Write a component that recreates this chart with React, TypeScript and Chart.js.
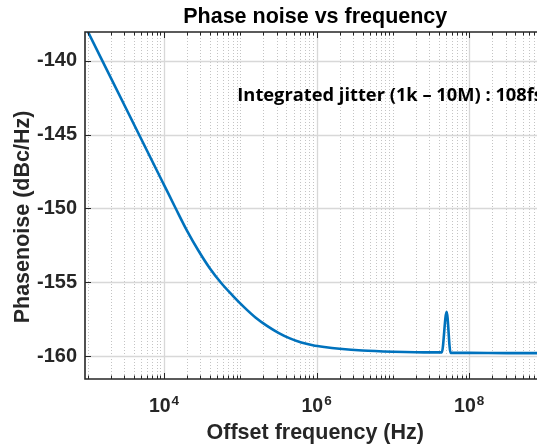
import React, { useEffect, useRef } from "react";
import { Chart, registerables } from "chart.js";

Chart.register(...registerables);

// ---- data ----
const freqHz = [
  1e3, 3.16e3, 1e4, 1.41e4, 2e4, 2.82e4, 3.98e4, 5.62e4, 7.94e4, 1.12e5,
  1.58e5, 2.24e5, 3.16e5, 4.47e5, 6.31e5, 8.91e5, 1.26e6, 2e6, 3.98e6, 1e7,
  3.16e7, 4.37e7, 5.06e7, 5.7e7, 1e8, 3.16e8, 1e9,
];
const phaseNoiseDbc = [
  -138.0, -143.2, -148.4, -149.95, -151.5, -152.85, -154.05, -155.05, -155.9,
  -156.68, -157.38, -157.95, -158.42, -158.8, -159.08, -159.26, -159.38,
  -159.5, -159.62, -159.7, -159.75, -159.75, -157.0, -159.78, -159.78,
  -159.8, -159.8,
];
const yTickValues = [-160, -155, -150, -145, -140];
const xMajorExponents = [4, 6, 8];
const xRange = [922, 7.74e8];
const yRange = [-161.55, -138.05];
const axisEndHz = 1e9;
const annotationText = "Integrated jitter (1k \u2013 10M) : 108fs";
const annotationAt = [9.14e4, -142.7];
const titleText = "Phase noise vs frequency";
const xTitleText = "Offset frequency (Hz)";
const yTitleText = "Phasenoise (dBc/Hz)";

const AXIS = "#262626";
const SANS = '"Liberation Sans", Arial, sans-serif';

const decor = {
  id: "decor",
  beforeDatasetsDraw(chart: any) {
    const { ctx, chartArea: a, scales } = chart;
    const x = scales.x;
    const y = scales.y;
    ctx.save();
    // minor dotted grid
    ctx.strokeStyle = "#c4c4c4";
    ctx.lineWidth = 1;
    ctx.setLineDash([1, 2]);
    ctx.beginPath();
    for (let d = 2; d <= 9; d++) {
      for (let m = 1; m <= 9; m++) {
        const v = m * Math.pow(10, d);
        if (v < xRange[0] || v > xRange[1]) continue;
        if (m === 1 && xMajorExponents.includes(d)) continue;
        const px = Math.round(x.getPixelForValue(v)) + 0.5;
        ctx.moveTo(px, a.top);
        ctx.lineTo(px, a.bottom);
      }
    }
    ctx.stroke();
    // major solid grid
    ctx.setLineDash([]);
    ctx.strokeStyle = "#d8d8d8";
    ctx.lineWidth = 1.3;
    ctx.beginPath();
    for (const e of xMajorExponents) {
      const px = Math.round(x.getPixelForValue(Math.pow(10, e))) + 0.5;
      ctx.moveTo(px, a.top);
      ctx.lineTo(px, a.bottom);
    }
    for (const v of yTickValues) {
      const py = Math.round(y.getPixelForValue(v)) + 0.5;
      ctx.moveTo(a.left, py);
      ctx.lineTo(a.right, py);
    }
    ctx.stroke();
    ctx.restore();
  },
  afterDatasetsDraw(chart: any) {
    const { ctx, chartArea: a, scales } = chart;
    const x = scales.x;
    const y = scales.y;
    ctx.save();
    // axes box (left, bottom, top)
    ctx.strokeStyle = AXIS;
    ctx.lineWidth = 1.6;
    ctx.beginPath();
    ctx.moveTo(a.right + 2, a.top);
    ctx.lineTo(a.left, a.top);
    ctx.lineTo(a.left, a.bottom);
    ctx.lineTo(a.right + 2, a.bottom);
    ctx.stroke();
    // x ticks
    ctx.lineWidth = 1;
    ctx.beginPath();
    for (let d = 2; d <= 9; d++) {
      for (let m = 1; m <= 9; m++) {
        const v = m * Math.pow(10, d);
        if (v < xRange[0] || v > xRange[1]) continue;
        const major = m === 1 && xMajorExponents.includes(d);
        const len = major ? 6 : 3.5;
        const px = Math.round(x.getPixelForValue(v)) + 0.5;
        ctx.moveTo(px, a.bottom);
        ctx.lineTo(px, a.bottom - len);
        ctx.moveTo(px, a.top);
        ctx.lineTo(px, a.top + len);
      }
    }
    // y ticks
    for (const v of yTickValues) {
      const py = Math.round(y.getPixelForValue(v)) + 0.5;
      ctx.moveTo(a.left, py);
      ctx.lineTo(a.left + 6, py);
    }
    ctx.stroke();

    // x tick labels 10^n
    ctx.fillStyle = AXIS;
    ctx.textBaseline = "alphabetic";
    for (const e of xMajorExponents) {
      const px = x.getPixelForValue(Math.pow(10, e));
      ctx.font = `bold 19.5px ${SANS}`;
      const wBase = ctx.measureText("10").width;
      ctx.font = `bold 13.5px ${SANS}`;
      const wExp = ctx.measureText(String(e)).width;
      const start = px - (wBase + wExp + 1) / 2;
      ctx.font = `bold 19.5px ${SANS}`;
      ctx.textAlign = "left";
      ctx.fillText("10", start, 412);
      ctx.font = `bold 13.5px ${SANS}`;
      ctx.fillText(String(e), start + wBase + 1, 405);
    }

    // titles
    const centerX = (a.left + x.getPixelForValue(axisEndHz)) / 2;
    ctx.fillStyle = "#000";
    ctx.textAlign = "center";
    ctx.font = `bold 21.5px ${SANS}`;
    ctx.fillText(titleText, centerX, 23);
    ctx.fillStyle = AXIS;
    ctx.fillText(xTitleText, centerX, 439);
    ctx.save();
    ctx.translate(28.5, 217);
    ctx.rotate(-Math.PI / 2);
    ctx.fillText(yTitleText, 0, 0);
    ctx.restore();

    // annotation
    ctx.fillStyle = "#000";
    ctx.textAlign = "left";
    ctx.font = 'bold 18.3px "Open Sans", sans-serif';
    ctx.fillText(
      annotationText,
      x.getPixelForValue(annotationAt[0]),
      y.getPixelForValue(annotationAt[1])
    );
    ctx.restore();
  },
};

export default function App() {
  const ref = useRef<HTMLCanvasElement | null>(null);
  useEffect(() => {
    if (!ref.current) return;
    const chart = new Chart(ref.current, {
      type: "line",
      data: {
        datasets: [
          {
            data: freqHz.map((f, i) => ({ x: f, y: phaseNoiseDbc[i] })),
            borderColor: "#0072BD",
            borderWidth: 2.6,
            pointRadius: 0,
            cubicInterpolationMode: "monotone",
            fill: false,
            clip: 0,
          } as any,
        ],
      },
      options: {
        responsive: false,
        animation: false,
        devicePixelRatio: 1,
        layout: { padding: { top: 32, left: 0, right: 0, bottom: 0 } },
        plugins: {
          legend: { display: false },
          title: { display: false },
          tooltip: { enabled: false },
        },
        scales: {
          x: {
            type: "logarithmic",
            min: xRange[0],
            max: xRange[1],
            grid: { display: false },
            border: { display: false },
            ticks: { display: false },
            afterFit: (s: any) => {
              s.height = 69;
              s.paddingLeft = 0;
              s.paddingRight = 0;
            },
          },
          y: {
            type: "linear",
            min: yRange[0],
            max: yRange[1],
            grid: { display: false, drawTicks: false },
            border: { display: false },
            afterBuildTicks: (s: any) => {
              s.ticks = yTickValues.map((v) => ({ value: v }));
            },
            ticks: {
              color: AXIS,
              padding: 8,
              font: { family: SANS, size: 20, weight: "bold" },
              callback: (v: any) => String(v),
            },
            afterFit: (s: any) => {
              s.width = 85;
              s.paddingTop = 0;
              s.paddingBottom = 0;
            },
          },
        },
      },
      plugins: [decor],
    });
    return () => chart.destroy();
  }, []);
  return (
    <div
      style={{
        position: "absolute",
        left: 0,
        top: 0,
        width: 537,
        height: 448,
        overflow: "hidden",
        background: "#fff",
      }}
    >
      <canvas ref={ref} width={537} height={448} />
    </div>
  );
}
